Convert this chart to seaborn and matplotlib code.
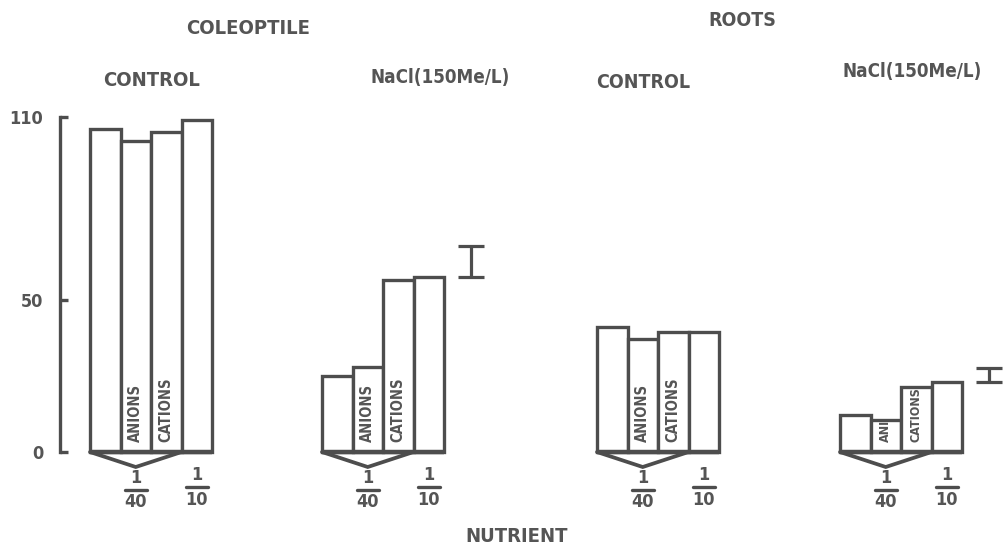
import numpy as np
import pandas as pd
import seaborn as sns
import matplotlib
matplotlib.use("Agg")
import matplotlib.pyplot as plt

# ---------------- data ----------------
groups = ["COLEOPTILE CONTROL", "COLEOPTILE NaCl", "ROOTS CONTROL", "ROOTS NaCl"]
treatments = ["1/40", "ANIONS", "CATIONS", "1/10"]
coleoptile_control = [106, 102, 105, 109]
coleoptile_nacl = [25, 28, 56.5, 57.5]
roots_control = [41, 37, 39.5, 39.5]
roots_nacl = [12, 10.5, 21.5, 23]
lsd_center = [None, 62.5, None, 25.3]
lsd_length = [None, 10, None, 4.5]
inner_labels = [["", "ANIONS", "CATIONS", ""],
                ["", "ANIONS", "CATIONS", ""],
                ["", "ANIONS", "CATIONS", ""],
                ["", "ANI", "CATIONS", ""]]
yticks = [0, 50, 110]

# ---------------- layout ----------------
W, H = 1005, 557
base_px = 452.0
px_per_unit = 3.045
bar_w = 30.5
group_left = [90, 322, 597, 840]

def yd(py):
    return (base_px - py) / px_per_unit

values = [coleoptile_control, coleoptile_nacl, roots_control, roots_nacl]
rows = []
for g, (gname, vals) in enumerate(zip(groups, values)):
    for i, (t, v) in enumerate(zip(treatments, vals)):
        rows.append({"group": gname, "treatment": t, "value": v,
                     "x": group_left[g] + bar_w * (i + 0.5)})
df = pd.DataFrame(rows)

sns.set_theme(style="white")
ink = "#4d4d4d"
txt = "#555555"
plt.rcParams["font.family"] = ["DejaVu Sans"]

fig = plt.figure(figsize=(W / 100, H / 100), dpi=100)
ax = fig.add_axes([0, 0, 1, 1])
ax.set_facecolor("white")

sns.barplot(data=df, x="x", y="value", native_scale=True, width=1.0,
            color="white", edgecolor=ink, linewidth=2.4, saturation=1,
            errorbar=None, ax=ax)

ax.set_xlim(0, W)
ax.set_ylim(yd(H), yd(0))
ax.set_xlabel("")
ax.set_ylabel("")
ax.set_xticks([])

for s in ["top", "right", "bottom"]:
    ax.spines[s].set_visible(False)
ax.spines["left"].set_position(("data", 60))
ax.spines["left"].set_bounds(0, 110)
ax.spines["left"].set_color(ink)
ax.spines["left"].set_linewidth(2.4)
ax.set_yticks(yticks)
ax.set_yticklabels([str(t) for t in yticks])
ax.tick_params(axis="y", direction="in", length=6, width=2.4, color=ink,
               pad=12, labelsize=13, labelcolor=txt, left=True)
for lab in ax.get_yticklabels():
    lab.set_fontweight("bold")
    lab.set_fontstretch("condensed")

fkw = dict(color=txt, fontweight="bold", fontstretch="condensed")

for g in range(len(groups)):
    left = group_left[g]
    centers = [left + bar_w * (i + 0.5) for i in range(4)]
    right3 = left + 3 * bar_w
    right4 = left + 4 * bar_w
    # thick baseline
    ax.plot([left, right4], [0, 0], color=ink, lw=3.2, solid_capstyle="butt", zorder=5)
    # chevron under bars 1-3
    ax.plot([left, centers[1], right3], [0, yd(467), 0], color=ink, lw=2.7,
            solid_joinstyle="miter", zorder=5)
    # fraction labels
    for cx, den, (py1, pyl, py2) in [(centers[1], "40", (478, 490, 502)),
                                     (centers[3], "10", (475, 487, 500))]:
        ax.text(cx, yd(py1), "1", ha="center", va="center", fontsize=13, **fkw)
        ax.plot([cx - 11, cx + 11], [yd(pyl), yd(pyl)], color=ink, lw=2.4)
        ax.text(cx, yd(py2), den, ha="center", va="center", fontsize=13, **fkw)
    # inner labels
    fs = 10.5 if g < 3 else 9
    for i, lab in enumerate(inner_labels[g]):
        if lab:
            ax.text(centers[i], 3.2, lab, rotation=90, ha="center", va="bottom",
                    fontsize=fs, **fkw)
    # LSD bars
    if lsd_center[g] is not None:
        ax.errorbar(right4 + 27, lsd_center[g], yerr=lsd_length[g] / 2,
                    color=ink, elinewidth=2.3, capsize=9.5, capthick=2.3, fmt="none")

# headers
def ftext(px, py, s, size):
    fig.text(px / W, 1 - py / H, s, ha="center", va="center", fontsize=size, **fkw)

ftext(248, 28, "COLEOPTILE", 14.5)
ftext(742, 20, "ROOTS", 14)
ftext(152, 81, "CONTROL", 14.5)
ftext(440, 77, "NaCl(150Me/L)", 13.5)
ftext(643, 82, "CONTROL", 14)
ftext(912, 72, "NaCl(150Me/L)", 13.5)
ftext(517, 537, "NUTRIENT", 14.5)

fig.savefig("out.png", dpi=100, facecolor="white")
